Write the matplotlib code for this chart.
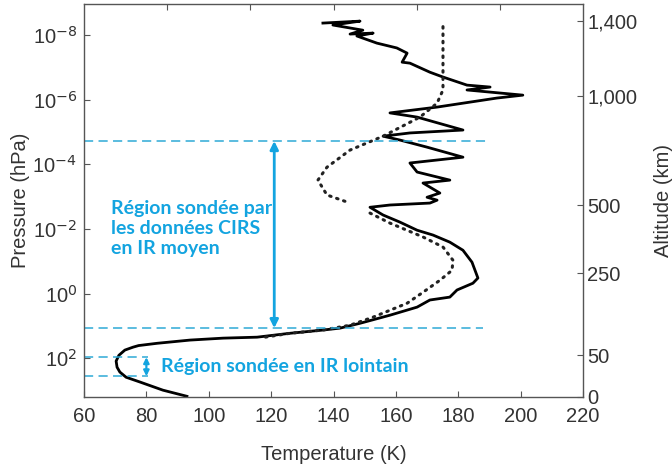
import numpy as np
import matplotlib
matplotlib.use("Agg")
import matplotlib.pyplot as plt

# measured profile (HASI) : temperature (K) vs log10 pressure (hPa)
meas_T = [136.6, 148.5, 139.8, 149.4, 145.3, 152.7, 147.5, 153.9, 160.3, 163.6,
          162.0, 164.5, 170.9, 175.1, 182.8, 190.2, 182.8, 200.7, 192.4, 177.3,
          173.2, 158.1, 166.8, 181.5, 164.5, 155.9, 161.3, 170.0, 181.5, 164.5,
          166.8, 177.3, 168.7, 174.1, 170.0, 173.2, 170.9, 158.1, 151.7, 155.9,
          161.3, 166.8, 171.9, 177.3, 181.5, 184.4, 186.3, 184.7, 179.6, 177.3,
          170.9, 166.8, 158.1, 148.5, 142.1, 136.6, 126.0, 115.5, 104.6, 94.0,
          83.4, 77.5, 75.7, 73.1, 71.2, 70.3, 70.6, 71.5, 73.5, 78.0, 85.3, 93.0]
meas_logp = [-8.37, -8.43, -8.31, -8.15, -8.03, -8.06, -7.97, -7.75, -7.60, -7.44,
             -7.16, -7.13, -6.85, -6.70, -6.45, -6.39, -6.30, -6.14, -6.05, -5.83,
             -5.77, -5.59, -5.46, -5.06, -4.97, -4.87, -4.75, -4.53, -4.22, -4.04,
             -3.76, -3.51, -3.42, -3.11, -2.98, -2.89, -2.80, -2.74, -2.67, -2.43,
             -2.21, -1.96, -1.81, -1.59, -1.34, -0.97, -0.48, -0.32, -0.11, 0.11,
             0.20, 0.42, 0.67, 0.92, 1.07, 1.13, 1.23, 1.35, 1.38, 1.44,
             1.54, 1.61, 1.66, 1.75, 1.91, 2.09, 2.28, 2.43, 2.59, 2.74, 2.99, 3.18]

# model profile (dotted)
model_T = [175.1, 175.1, 173.2, 167.7, 155.9, 145.3, 137.9, 135.0, 137.9, 145.3,
           np.nan, 151.7, 158.1, 168.7, 175.1, 178.3, 178.0, 174.1, 168.7, 163.6,
           152.7, 145.3, 136.6, 126.0, 117.4]
model_logp = [-8.26, -6.30, -5.89, -5.46, -4.87, -4.44, -3.91, -3.51, -3.05, -2.80,
              np.nan, -2.49, -2.18, -1.75, -1.44, -1.03, -0.72, -0.41, -0.04, 0.30,
              0.73, 0.98, 1.13, 1.23, 1.36]

# altitude axis (km) and matching log10 pressure
alt_labels = ["1,400", "1,000", "500", "250", "50", "0"]
alt_logp = [-8.43, -6.11, -2.74, -0.63, 1.91, 3.2]

# sounded regions (log10 pressure)
mid_ir = [-4.72, 1.07]
far_ir = [1.97, 2.56]

blue = "#13A4E0"
dash_blue = "#2EA9D6"

plt.rcParams["font.family"] = ["Liberation Sans", "DejaVu Sans"]

fig = plt.figure(figsize=(6.72, 4.67), dpi=100)
ax = fig.add_axes([0.125, 0.15, 0.7426, 0.8414])

ax.plot(meas_T, 10 ** np.array(meas_logp), color="black", lw=2.0,
        solid_joinstyle="round")
ax.plot(model_T, 10 ** np.array(model_logp), color="#222222", lw=2.2,
        linestyle=(0, (0.5, 1.9)), dash_capstyle="round")

ax.set_yscale("log")
ax.set_xlim(60, 220)
ax.set_ylim(10 ** 3.2, 10 ** -8.96)
ax.set_xticks(range(60, 221, 20))
ax.set_yticks([1e-8, 1e-6, 1e-4, 1e-2, 1, 1e2])
ax.set_yticklabels(["10$^{-8}$", "10$^{-6}$", "10$^{-4}$", "10$^{-2}$",
                    "10$^{0}$", "10$^{2}$"])
ax.minorticks_off()
ax.tick_params(direction="in", length=4, color="#555555", labelsize=14.5,
               labelcolor="#333333", pad=5)
ax.tick_params(axis="x", pad=7)
for s in ax.spines.values():
    s.set_color("#555555")
    s.set_linewidth(1.0)

top = ax.secondary_xaxis("top")
top.set_xticks([60 + 160 / 6 * k for k in range(1, 6)])
top.set_xticklabels([])
top.tick_params(direction="in", length=4, color="#555555")
top.spines["top"].set_visible(False)

ax.set_xlabel("Temperature (K)", fontsize=14.5, color="#333333", labelpad=14)
ax.set_ylabel("Pressure (hPa)", fontsize=14.5, color="#333333", labelpad=2)

ax2 = ax.twinx()
ax2.set_yscale("log")
ax2.set_ylim(ax.get_ylim())
ax2.set_yticks([10 ** v for v in alt_logp])
ax2.set_yticklabels(alt_labels)
ax2.minorticks_off()
ax2.tick_params(direction="in", length=4, color="#555555", labelsize=14.5,
                labelcolor="#333333", pad=3)
ax2.set_ylabel("Altitude (km)", fontsize=14.5, color="#333333", labelpad=12)
for s in ax2.spines.values():
    s.set_visible(False)

# sounded regions
ax.plot([60, 190], [10 ** mid_ir[0]] * 2, color=dash_blue, lw=1.1, ls=(0, (6, 3.5)))
ax.plot([60, 188], [10 ** mid_ir[1]] * 2, color=dash_blue, lw=1.1, ls=(0, (6, 3.5)))
for v in far_ir:
    ax.plot([60, 80.5], [10 ** v] * 2, color=dash_blue, lw=1.1, ls=(0, (6, 3.5)))

ax.annotate("", xy=(121, 10 ** mid_ir[0]), xytext=(121, 10 ** mid_ir[1]),
            arrowprops=dict(arrowstyle="<|-|>", color=blue, lw=2,
                            mutation_scale=12, shrinkA=0, shrinkB=0))
ax.annotate("", xy=(80, 10 ** far_ir[0]), xytext=(80, 10 ** far_ir[1]),
            arrowprops=dict(arrowstyle="<|-|>", color=blue, lw=1.6,
                            mutation_scale=8, shrinkA=0, shrinkB=0))

ax.text(68.8, 10 ** -2.02, "Région sondée par\nles données CIRS\nen IR moyen",
        color=blue, fontsize=14, fontweight="bold", family=["Lato", "DejaVu Sans"],
        va="center", ha="left", linespacing=1.2)
ax.text(84.8, 10 ** 2.25, "Région sondée en IR lointain",
        color=blue, fontsize=14, fontweight="bold", family=["Lato", "DejaVu Sans"],
        va="center", ha="left")

fig.savefig("out.png", dpi=100)
